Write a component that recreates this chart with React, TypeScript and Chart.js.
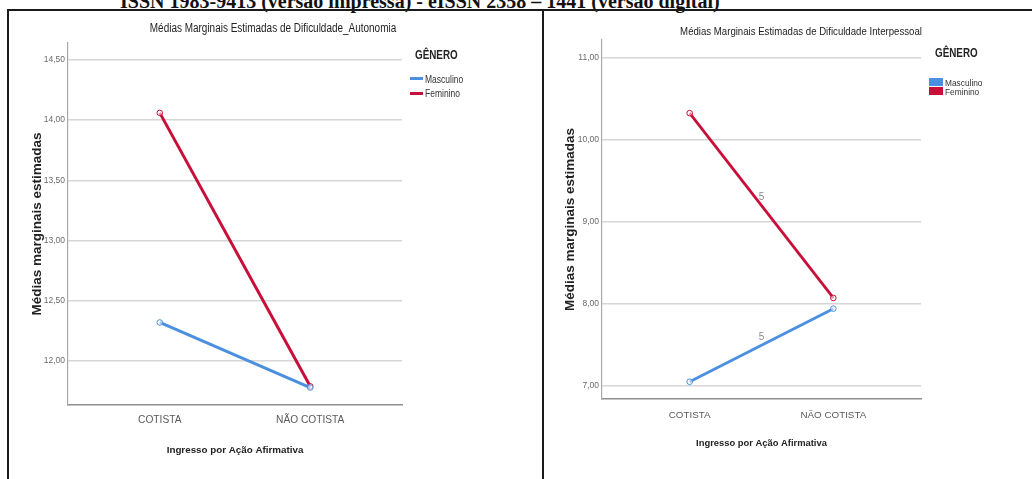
import { useEffect, useRef } from 'react';
import { Chart, registerables } from 'chart.js';

Chart.register(...registerables);

// ---------- data ----------
const categories = ['COTISTA', 'NÃO COTISTA'];
const seriesNames = ['Masculino', 'Feminino'];

const autonomiaMasculino = [12.32, 11.78];
const autonomiaFeminino = [14.06, 11.79];
const autonomiaTicks = [12.0, 12.5, 13.0, 13.5, 14.0, 14.5];

const interpMasculino = [7.05, 7.94];
const interpFeminino = [10.32, 8.07];
const interpTicks = [7, 8, 9, 10, 11];
const interpMidLabel = '5';

const BLUE = '#4a8fe0';
const RED = '#c80f3a';
const NARROW = '"Liberation Sans Narrow", "Arial Narrow", "Liberation Sans", Arial, sans-serif';
const WIDE = '"Liberation Sans", Arial, sans-serif';

type PanelProps = {
  x: number; y: number; w: number; h: number;
  padTop: number; padRight: number;
  yAxisWidth: number; xAxisHeight: number;
  yMin: number; yMax: number; yTicks: number[];
  masc: number[]; fem: number[];
  yTitlePad: number; xTitlePad: number; xTickPad: number;
  xTitleSize: number; xTickSize: number;
  lineWidth: number;
  midLabel?: string;
};

function Panel(p: PanelProps) {
  const ref = useRef<HTMLCanvasElement>(null);
  useEffect(() => {
    const midPlugin = {
      id: 'midLabels',
      afterDatasetsDraw(chart: any) {
        if (!p.midLabel) return;
        const { ctx, scales } = chart;
        ctx.save();
        ctx.font = '10px ' + NARROW;
        ctx.fillStyle = '#8a8a8a';
        ctx.textAlign = 'center';
        ctx.textBaseline = 'middle';
        [p.masc, p.fem].forEach((vals) => {
          const mx = scales.x.getPixelForValue(0.5);
          const my = scales.y.getPixelForValue((vals[0] + vals[1]) / 2);
          ctx.fillText(p.midLabel, mx, my - 8);
        });
        ctx.restore();
      },
    };
    const ds = (label: string, vals: number[], color: string) => ({
      label,
      data: vals.map((v, i) => ({ x: i, y: v })),
      borderColor: color,
      backgroundColor: color,
      borderWidth: p.lineWidth,
      pointRadius: 2.8,
      pointBorderWidth: 1,
      pointBorderColor: color,
      pointBackgroundColor: 'rgba(255,255,255,0.55)',
      tension: 0,
    });
    const chart = new Chart(ref.current!, {
      type: 'line',
      data: {
        datasets: [
          ds(seriesNames[0], p.masc, BLUE),
          ds(seriesNames[1], p.fem, RED),
        ],
      },
      options: {
        responsive: false,
        animation: false,
        layout: { padding: { left: 0, right: p.padRight, top: p.padTop, bottom: 0 } },
        plugins: {
          legend: { display: false },
          tooltip: { enabled: false },
          title: { display: false },
        },
        scales: {
          x: {
            type: 'linear',
            min: -0.61,
            max: 1.61,
            afterBuildTicks: (s: any) => {
              s.ticks = categories.map((_, i) => ({ value: i }));
            },
            afterFit: (s: any) => {
              s.height = p.xAxisHeight;
            },
            ticks: {
              callback: (v: any) => categories[v as number],
              font: { family: NARROW, size: p.xTickSize },
              color: '#5a5a5a',
              padding: p.xTickPad,
              autoSkip: false,
              maxRotation: 0,
            },
            grid: { display: false, drawTicks: false },
            border: { display: true, color: '#8f8f8f', width: 1.5 },
            title: {
              display: true,
              text: 'Ingresso por Ação Afirmativa',
              font: { family: NARROW, size: p.xTitleSize, weight: 'bold' },
              color: '#222',
              padding: { top: 0, bottom: p.xTitlePad },
            },
          },
          y: {
            min: p.yMin,
            max: p.yMax,
            afterBuildTicks: (s: any) => {
              s.ticks = p.yTicks.map((v) => ({ value: v }));
            },
            afterFit: (s: any) => {
              s.width = p.yAxisWidth;
            },
            ticks: {
              callback: (v: any) => (v as number).toFixed(2).replace('.', ','),
              font: { family: NARROW, size: 8.5 },
              color: '#6a6a6a',
              padding: 3,
            },
            grid: { color: '#d6d6d6', lineWidth: 1.5, drawTicks: false },
            border: { display: true, color: '#a8a8a8', width: 1.2 },
            title: {
              display: true,
              text: 'Médias marginais estimadas',
              font: { family: WIDE, size: 13.5, weight: 'bold' },
              color: '#222',
              padding: { top: p.yTitlePad, bottom: 0 },
            },
          },
        },
      } as any,
      plugins: [midPlugin],
    });
    return () => chart.destroy();
  }, []);
  return (
    <canvas
      ref={ref}
      width={p.w}
      height={p.h}
      style={{ position: 'absolute', left: p.x, top: p.y, width: p.w, height: p.h }}
    />
  );
}

const abs = (s: any) => ({ position: 'absolute' as const, whiteSpace: 'nowrap' as const, ...s });

export default function App() {
  return (
    <div
      style={{
        position: 'fixed', left: 0, top: 0, width: 1032, height: 479,
        overflow: 'hidden', background: '#fff',
      }}
    >
      {/* header */}
      <div
        style={abs({
          left: 120, top: -9.5, fontFamily: '"Liberation Serif", "Times New Roman", serif',
          fontWeight: 'bold', fontSize: 20, lineHeight: '20px', color: '#111',
        })}
      >
        ISSN 1983-9413 (versão impressa) - eISSN 2358 – 1441 (versão digital)
      </div>

      <Panel
        x={10} y={12} w={533} h={467}
        padTop={31} padRight={141}
        yAxisWidth={58} xAxisHeight={74}
        yMin={11.635} yMax={14.64} yTicks={autonomiaTicks}
        masc={autonomiaMasculino} fem={autonomiaFeminino}
        yTitlePad={19} xTitlePad={22.5} xTickPad={9}
        xTitleSize={9.8} xTickSize={10.2}
        lineWidth={3}
      />
      <Panel
        x={545} y={12} w={487} h={467}
        padTop={28} padRight={111}
        yAxisWidth={57} xAxisHeight={80}
        yMin={6.84} yMax={11.21} yTicks={interpTicks}
        masc={interpMasculino} fem={interpFeminino}
        yTitlePad={17} xTitlePad={29.5} xTickPad={10}
        xTitleSize={9.4} xTickSize={9.8}
        lineWidth={2.8}
        midLabel={interpMidLabel}
      />

      {/* chart titles */}
      <div style={abs({ left: 273, top: 28, transform: 'translate(-50%,-50%) scaleX(0.83)', fontFamily: NARROW, fontSize: 12, color: '#222' })}>
        Médias Marginais Estimadas de Dificuldade_Autonomia
      </div>
      <div style={abs({ left: 801, top: 30, transform: 'translate(-50%,-50%) scaleX(0.83)', fontFamily: NARROW, fontSize: 11.6, color: '#222' })}>
        Médias Marginais Estimadas de Dificuldade Interpessoal
      </div>

      {/* left legend */}
      <div style={abs({ left: 415, top: 55, transform: 'translateY(-50%) scaleX(0.82)', transformOrigin: 'left center', fontFamily: NARROW, fontWeight: 'bold', fontSize: 12, color: '#222' })}>
        GÊNERO
      </div>
      <div style={abs({ left: 410, top: 77, width: 13, height: 3, background: BLUE })} />
      <div style={abs({ left: 410, top: 91.5, width: 13, height: 3, background: RED })} />
      <div style={abs({ left: 425, top: 78.5, transform: 'translateY(-50%) scaleX(0.85)', transformOrigin: 'left center', fontFamily: NARROW, fontSize: 10, color: '#333' })}>
        {seriesNames[0]}
      </div>
      <div style={abs({ left: 425, top: 93, transform: 'translateY(-50%) scaleX(0.85)', transformOrigin: 'left center', fontFamily: NARROW, fontSize: 10, color: '#333' })}>
        {seriesNames[1]}
      </div>

      {/* right legend */}
      <div style={abs({ left: 935, top: 53, transform: 'translateY(-50%) scaleX(0.82)', transformOrigin: 'left center', fontFamily: NARROW, fontWeight: 'bold', fontSize: 12, color: '#222' })}>
        GÊNERO
      </div>
      <div style={abs({ left: 929, top: 78, width: 14, height: 8, background: BLUE })} />
      <div style={abs({ left: 929, top: 87, width: 14, height: 8, background: RED })} />
      <div style={abs({ left: 945, top: 82, transform: 'translateY(-50%) scaleX(0.85)', transformOrigin: 'left center', fontFamily: NARROW, fontSize: 9.8, color: '#333' })}>
        {seriesNames[0]}
      </div>
      <div style={abs({ left: 945, top: 91, transform: 'translateY(-50%) scaleX(0.85)', transformOrigin: 'left center', fontFamily: NARROW, fontSize: 9.8, color: '#333' })}>
        {seriesNames[1]}
      </div>

      {/* frame lines */}
      <div style={abs({ left: 7, top: 9, width: 1025, height: 2, background: '#1a1a1a' })} />
      <div style={abs({ left: 7, top: 9, width: 2, height: 470, background: '#1a1a1a' })} />
      <div style={abs({ left: 542, top: 9, width: 2, height: 470, background: '#1a1a1a' })} />
    </div>
  );
}
